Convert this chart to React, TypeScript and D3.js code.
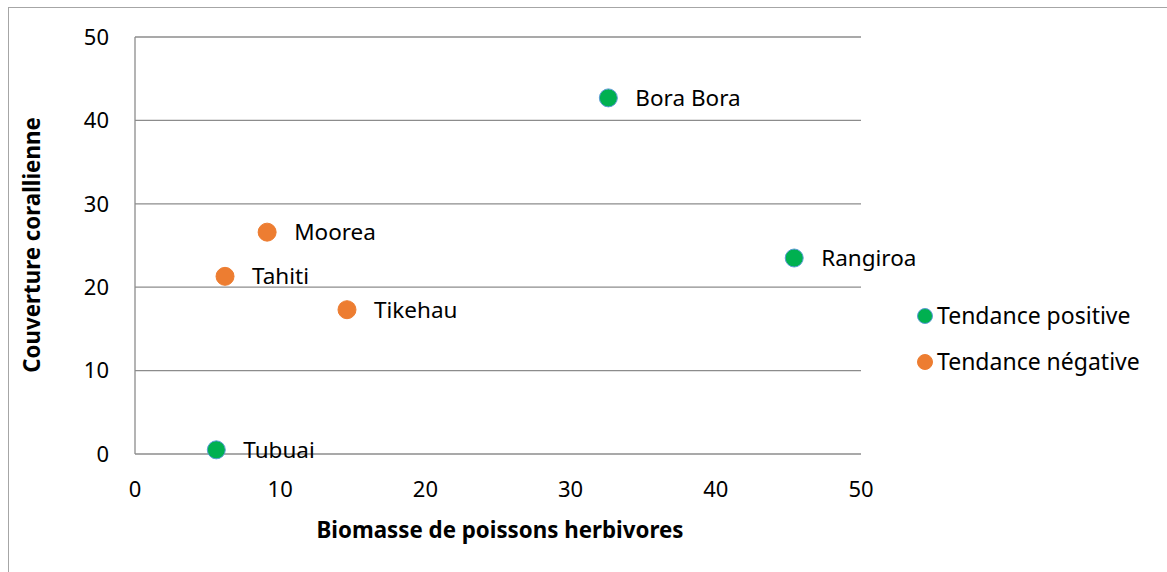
import React from "react";
import * as d3 from "d3";

const islands = ["Bora Bora", "Rangiroa", "Moorea", "Tahiti", "Tikehau", "Tubuai"];
const biomass = [32.6, 45.4, 9.1, 6.2, 14.6, 5.6];
const coral = [42.7, 23.5, 26.6, 21.3, 17.3, 0.5];
const trend = ["positive", "positive", "negative", "negative", "negative", "positive"];
const ticks = [0, 10, 20, 30, 40, 50];
const legendLabels = ["Tendance positive", "Tendance négative"];

const W = 1167;
const H = 572;
const font = "'Noto Sans', sans-serif";
const fill: Record<string, string> = { positive: "#00b050", negative: "#ed7d31" };

export default function App() {
  const x = d3.scaleLinear().domain([0, 50]).range([135, 861]);
  const y = d3.scaleLinear().domain([0, 50]).range([454, 37]);

  return (
    <svg width={W} height={H} style={{ position: "absolute", left: 0, top: 0 }} fontFamily={font}>
      <rect x={8.5} y={7.5} width={W + 20} height={H + 20} fill="white" stroke="#a6a6a6" />
      {ticks.map((t) => (
        <line key={"g" + t} x1={x(0)} x2={x(50)} y1={y(t)} y2={y(t)} stroke="#8c8c8c" strokeWidth={1.3} />
      ))}
      <line x1={x(0)} x2={x(0)} y1={y(0)} y2={y(50)} stroke="#8c8c8c" strokeWidth={1.3} />
      {ticks.map((t) => (
        <text key={"y" + t} x={109} y={y(t)} dy="0.35em" textAnchor="end" fontSize={22}>{t}</text>
      ))}
      {ticks.map((t) => (
        <text key={"x" + t} x={x(t)} y={497} textAnchor="middle" fontSize={22}>{t}</text>
      ))}
      <text x={500} y={538} textAnchor="middle" fontSize={22.3} fontWeight="bold">Biomasse de poissons herbivores</text>
      <text transform={`translate(40,${245}) rotate(-90)`} textAnchor="middle" fontSize={22.3} fontWeight="bold">Couverture corallienne</text>
      {islands.map((name, i) => (
        <g key={name}>
          <circle cx={x(biomass[i])} cy={y(coral[i])} r={9} fill={fill[trend[i]]} stroke={trend[i] === "positive" ? "#5b9bd5" : fill[trend[i]]} strokeWidth={1} />
          <text x={x(biomass[i]) + 27} y={y(coral[i])} dy="0.35em" fontSize={22.5}>{name}</text>
        </g>
      ))}
      {legendLabels.map((l, i) => (
        <g key={l}>
          <circle cx={925} cy={316 + i * 46} r={7.5} fill={i === 0 ? fill.positive : fill.negative} stroke={i === 0 ? "#5b9bd5" : fill.negative} />
          <text x={937} y={316 + i * 46} dy="0.35em" fontSize={23}>{l}</text>
        </g>
      ))}
    </svg>
  );
}
